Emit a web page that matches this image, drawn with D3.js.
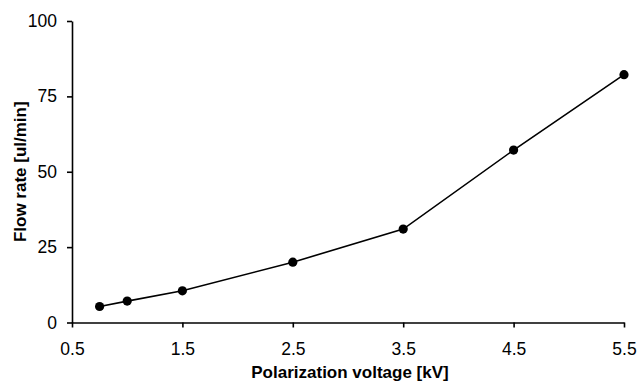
<!DOCTYPE html>
<html><head><meta charset="utf-8">
<script src="https://cdn.jsdelivr.net/npm/d3@7"></script>
<style>
html,body{margin:0;padding:0;background:#fff;}
svg text{font-family:"Liberation Sans",Arial,sans-serif;fill:#000;}
</style></head>
<body><svg id="c" width="638" height="386"></svg>
<script>
const voltage = [0.75, 1.0, 1.5, 2.5, 3.5, 4.5, 5.5];
const flowRate = [5.3, 7.1, 10.5, 20, 31, 57.2, 82.2];
const xTicks = [0.5, 1.5, 2.5, 3.5, 4.5, 5.5];
const yTicks = [0, 25, 50, 75, 100];

const svg = d3.select("#c");
const x = d3.scaleLinear().domain([0.5, 5.5]).range([72, 624]);
const y = d3.scaleLinear().domain([0, 100]).range([322.5, 21]);

const xAxis = svg.append("g").attr("transform", `translate(0,${y(0)})`)
  .call(d3.axisBottom(x).tickValues(xTicks).tickFormat(d3.format(".1f")).tickSize(5).tickSizeOuter(0).tickPadding(15));
const yAxis = svg.append("g").attr("transform", `translate(${x(0.5)},0)`)
  .call(d3.axisLeft(y).tickValues(yTicks).tickSize(5).tickSizeOuter(0).tickPadding(10));
[xAxis, yAxis].forEach(g => {
  g.attr("font-size", null);
  g.selectAll("path.domain").attr("stroke", "#000").attr("stroke-width", 1.6);
  g.selectAll(".tick line").attr("stroke", "#000").attr("stroke-width", 1.6);
  g.selectAll(".tick text").style("font-size", "17.5px").style("font-family", "Liberation Sans, Arial, sans-serif").attr("fill", "#000");
});

const line = d3.line().x((d, i) => x(voltage[i])).y(d => y(d));
svg.append("path").datum(flowRate).attr("d", line)
  .attr("fill", "none").attr("stroke", "#000").attr("stroke-width", 1.6);
svg.selectAll("circle.pt").data(flowRate).enter().append("circle")
  .attr("class", "pt").attr("cx", (d, i) => x(voltage[i])).attr("cy", d => y(d))
  .attr("r", 4.6).attr("fill", "#000");

svg.append("text").attr("x", 350).attr("y", 378).attr("text-anchor", "middle")
  .style("font-size", "17px").style("font-weight", "bold").text("Polarization voltage [kV]");
svg.append("text").attr("transform", `translate(25.5,${(y(0) + y(100)) / 2}) rotate(-90)`)
  .attr("text-anchor", "middle")
  .style("font-size", "17px").style("font-weight", "bold").text("Flow rate [ul/min]");
</script></body></html>
